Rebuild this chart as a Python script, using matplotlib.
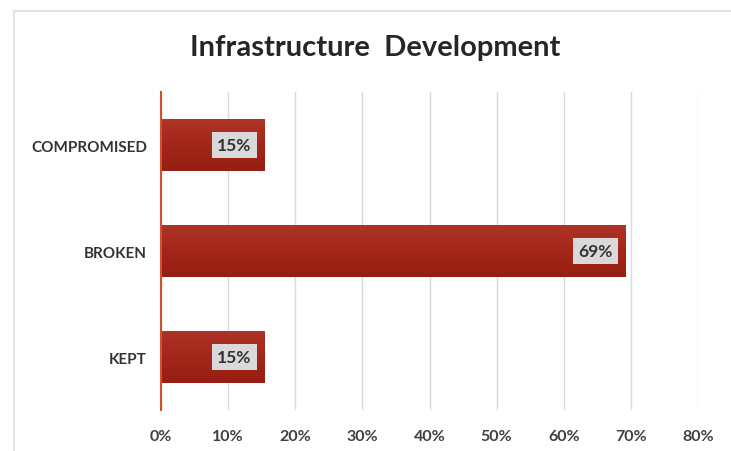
import numpy as np
import matplotlib.pyplot as plt
from matplotlib.patches import Rectangle
from matplotlib.colors import LinearSegmentedColormap

# dados
categorias = ['KEPT', 'BROKEN', 'COMPROMISED']
valores = [15.38, 69.23, 15.38]
rotulos = ['15%', '69%', '15%']
ticks_x = [0, 10, 20, 30, 40, 50, 60, 70, 80]

plt.rcParams['font.family'] = ['Lato', 'DejaVu Sans']

fig = plt.figure(figsize=(7.31, 4.52), dpi=100)
fig.patch.set_facecolor('white')

# moldura do painel
fig.add_artist(Rectangle((14 / 731, -0.05), 1.0, (452 - 12) / 452 + 0.05,
                         transform=fig.transFigure, facecolor='white',
                         edgecolor='#E2E2E2', linewidth=1.5, zorder=-1))

ax = fig.add_axes([161 / 731, 41 / 452, 537 / 731, 318 / 452])
ax.set_facecolor('none')

y = np.arange(len(categorias))
altura = 0.49
barras = ax.barh(y, valores, height=altura, color='#A0241A', zorder=2)

# gradiente vertical suave nas barras
grad = np.linspace(0, 1, 100).reshape(-1, 1)
cmap = LinearSegmentedColormap.from_list('vermelho', ['#961E12', '#A3261A', '#AE3427'])
for b in barras:
    x0, y0 = b.get_x(), b.get_y()
    im = ax.imshow(grad, cmap=cmap, aspect='auto', origin='lower',
                   extent=[x0, x0 + b.get_width(), y0, y0 + b.get_height()], zorder=2)
    im.set_clip_path(b)

for yi, v, r in zip(y, valores, rotulos):
    ax.text(v - 1.9, yi, r, ha='right', va='center', fontsize=12.5, fontweight='bold',
            color='#333333', zorder=4,
            bbox=dict(boxstyle='square,pad=0.3', facecolor='#D9D9D9', edgecolor='none'))

ax.set_xlim(0, 80)
ax.set_ylim(-0.5, 2.5)
ax.set_xticks(ticks_x)
ax.set_xticklabels([f'{t}%' for t in ticks_x], fontsize=11.5, fontweight='bold', color='#404040')
ax.set_yticks(y)
ax.set_yticklabels(categorias, fontsize=11, fontweight='bold', color='#333333')
ax.tick_params(axis='x', length=0, pad=14)
ax.tick_params(axis='y', length=0, pad=10)
ax.grid(axis='x', color='#DADADA', linewidth=1, zorder=0)
ax.set_axisbelow(True)
for s in ['top', 'right', 'bottom']:
    ax.spines[s].set_visible(False)
ax.spines['left'].set_color('#D2502A')
ax.spines['left'].set_linewidth(1.5)
ax.spines['left'].set_zorder(5)

fig.text(375 / 731, 1 - 48 / 452, 'Infrastructure  Development', ha='center', va='center',
         fontsize=21, fontweight='bold', color='#262626')

fig.savefig('out.png', dpi=100)
